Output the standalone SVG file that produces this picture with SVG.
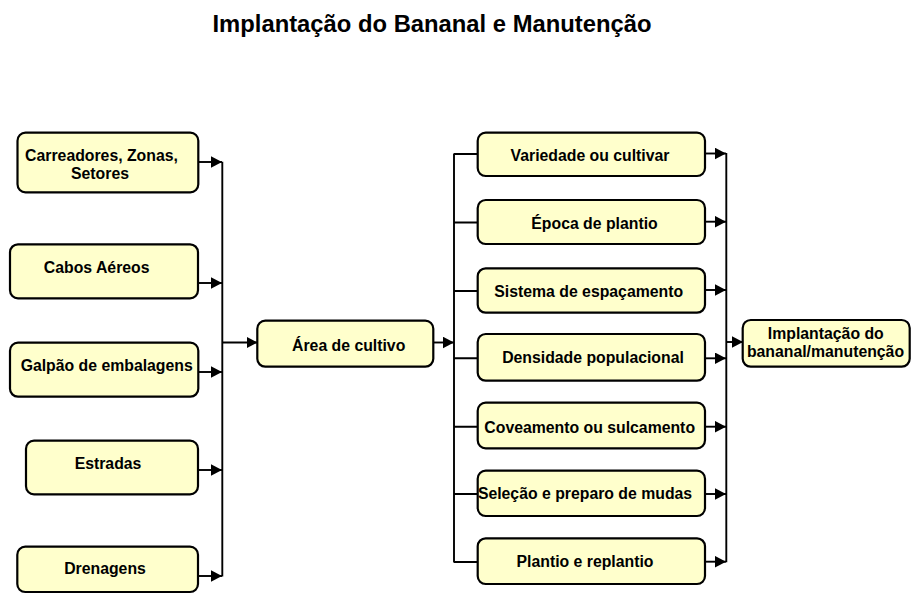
<svg xmlns="http://www.w3.org/2000/svg" width="911" height="594" viewBox="0 0 911 594">
<style>
.box{fill:#FFFFCC;stroke:#000;stroke-width:2.2}
.t{font-family:"Liberation Sans",Arial,sans-serif;font-weight:bold;font-size:15.8px;fill:#000;text-anchor:middle}
.title{font-family:"Liberation Sans",Arial,sans-serif;font-weight:bold;font-size:23.8px;fill:#000;text-anchor:middle}
.ln{fill:none;stroke:#000;stroke-width:1.9}
.ar{fill:none;stroke:#000;stroke-width:1.9;marker-end:url(#arr)}
</style>
<defs>
<marker id="arr" markerUnits="userSpaceOnUse" markerWidth="12" markerHeight="12" refX="11" refY="5.75" orient="auto">
<path d="M0,0 L11,5.75 L0,11.5 z" fill="#000"/>
</marker>
</defs>
<rect width="911" height="594" fill="#fff"/>
<text class="title" x="432" y="31.5">Implantação do Bananal e Manutenção</text>

<g id="connectors">
<path class="ar" d="M198,162 H222"/>
<path class="ar" d="M198,283 H222"/>
<path class="ar" d="M198,372 H222"/>
<path class="ar" d="M198,470 H222"/>
<path class="ar" d="M198,576 H222"/>
<path class="ln" d="M222.3,161.7 V576.5"/>
<path class="ar" d="M222,342.5 H257.5"/>
<path class="ar" d="M433.5,342.5 H454"/>
<path class="ln" d="M454,153.5 V562.5"/>
<path class="ln" d="M454,154 H478 M454,222.5 H478 M454,291 H478 M454,358.3 H478 M454,426.7 H478 M454,494 H478 M454,562 H478"/>
<path class="ar" d="M705,153.5 H726"/>
<path class="ar" d="M705,221.7 H726"/>
<path class="ar" d="M705,290 H726"/>
<path class="ar" d="M705,358.3 H726"/>
<path class="ar" d="M705,426.7 H726"/>
<path class="ar" d="M705,494 H726"/>
<path class="ar" d="M705,561.7 H726"/>
<path class="ln" d="M726.3,153 V562.2"/>
<path class="ar" d="M726,342 H743"/>
</g>

<g id="carreadores">
<rect class="box" x="17.5" y="132.7" width="180.8" height="59.6" rx="8"/>
<text class="t" x="101.5" y="160.7">Carreadores, Zonas,</text>
<text class="t" x="100" y="179">Setores</text>
</g>
<g id="cabos">
<rect class="box" x="10" y="244.3" width="188" height="54" rx="8"/>
<text class="t" x="96.7" y="272.7">Cabos Aéreos</text>
</g>
<g id="galpao">
<rect class="box" x="10" y="342.7" width="188.3" height="54" rx="8"/>
<text class="t" x="106.7" y="370.7">Galpão de embalagens</text>
</g>
<g id="estradas">
<rect class="box" x="26" y="440.7" width="172" height="53.6" rx="8"/>
<text class="t" x="108" y="469">Estradas</text>
</g>
<g id="drenagens">
<rect class="box" x="17.3" y="546.7" width="180.7" height="45.3" rx="8"/>
<text class="t" x="105" y="574.3">Drenagens</text>
</g>

<g id="area">
<rect class="box" x="257.3" y="320.7" width="176" height="46" rx="8"/>
<text class="t" x="348.7" y="350.7">Área de cultivo</text>
</g>

<g id="variedade">
<rect class="box" x="477.7" y="132.7" width="227.3" height="43.3" rx="8"/>
<text class="t" x="590" y="160.7">Variedade ou cultivar</text>
</g>
<g id="epoca">
<rect class="box" x="477.7" y="200" width="227.3" height="44" rx="8"/>
<text class="t" x="594.5" y="229">Época de plantio</text>
</g>
<g id="sistema">
<rect class="box" x="477.7" y="268.3" width="227.3" height="44.4" rx="8"/>
<text class="t" x="588.7" y="296.7">Sistema de espaçamento</text>
</g>
<g id="densidade">
<rect class="box" x="477.7" y="334" width="227.3" height="46.7" rx="8"/>
<text class="t" x="593" y="363.3">Densidade populacional</text>
</g>
<g id="coveamento">
<rect class="box" x="477.7" y="402.7" width="227.3" height="45.6" rx="8"/>
<text class="t" x="589.7" y="432.7">Coveamento ou sulcamento</text>
</g>
<g id="selecao">
<rect class="box" x="477.7" y="470.7" width="227.3" height="45.3" rx="8"/>
<text class="t" x="585" y="499.3">Seleção e preparo de mudas</text>
</g>
<g id="plantio">
<rect class="box" x="477.7" y="538.3" width="227.3" height="45.7" rx="8"/>
<text class="t" x="585" y="566.7">Plantio e replantio</text>
</g>

<g id="implantacao">
<rect class="box" x="742.7" y="320" width="167" height="46.7" rx="8"/>
<text class="t" x="825.8" y="339.3">Implantação do</text>
<text class="t" x="825.5" y="356.7">bananal/manutenção</text>
</g>
</svg>
